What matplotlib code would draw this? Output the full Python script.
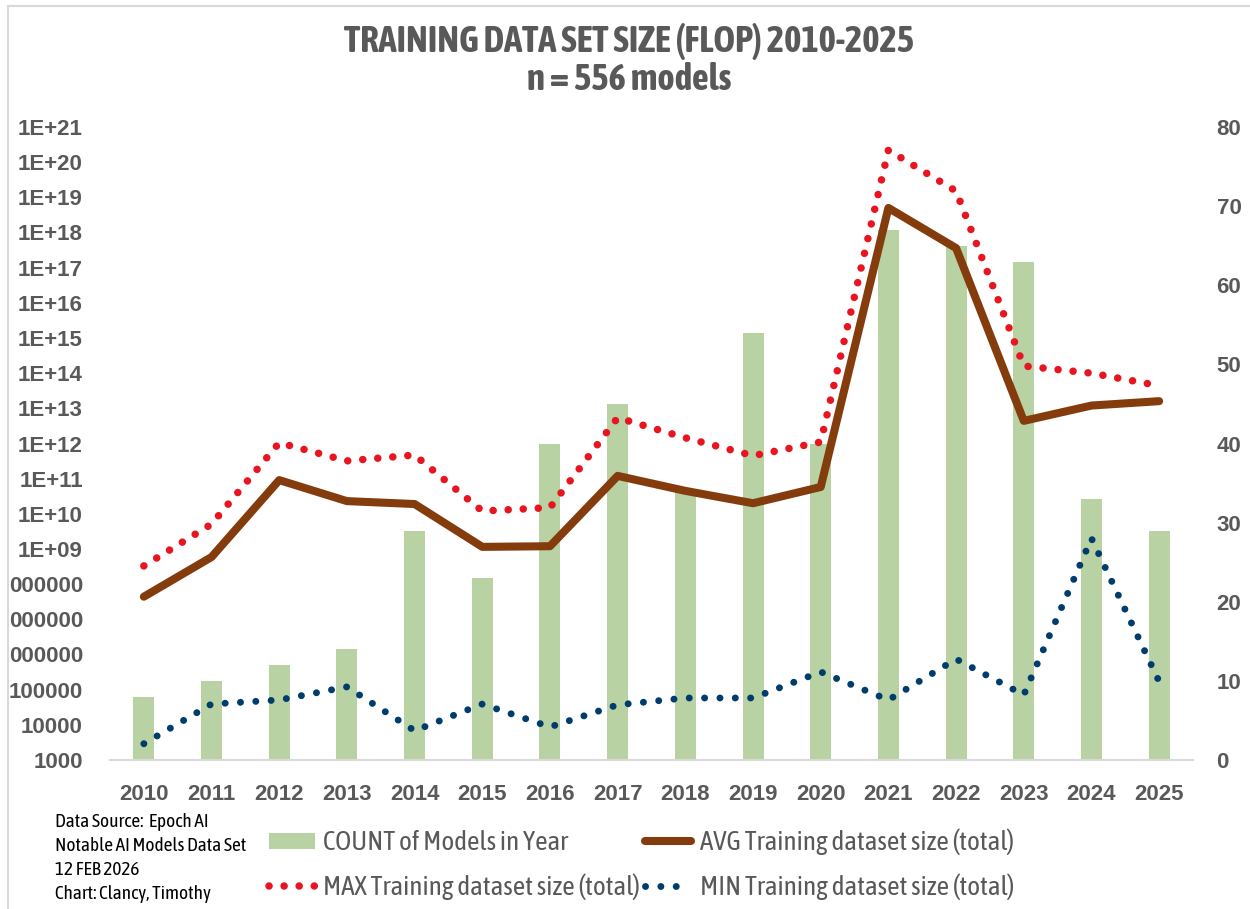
import matplotlib
matplotlib.use("Agg")
import matplotlib.pyplot as plt
from matplotlib import font_manager as fm
from matplotlib.lines import Line2D
from matplotlib.patches import Patch
from matplotlib.ticker import NullLocator


def has_font(name):
    try:
        fm.findfont(fm.FontProperties(family=name), fallback_to_default=False)
        return True
    except Exception:
        return False


# narrow face for title / legend / notes, plain sans for the tick labels
NARROW = "Asap Condensed" if has_font("Asap Condensed") else "Liberation Sans"
WIDE = "Liberation Sans"

# data
years = [str(y) for y in range(2010, 2026)]
model_counts = [8, 10, 12, 14, 29, 23, 40, 45, 34, 54, 40, 67, 65, 63, 33, 29]
avg_size = [4.4e7, 5.9e8, 9.1e10, 2.3e10, 1.9e10, 1.15e9, 1.2e9, 1.2e11,
            4.5e10, 2.0e10, 5.8e10, 5.0e18, 3.6e17, 4.4e12, 1.2e13, 1.6e13]
max_size = [3.3e8, 5.1e9, 1.05e12, 3.2e11, 4.7e11, 1.2e10, 1.5e10, 5.4e12,
            1.45e12, 4.5e11, 1.1e12, 2.2e20, 1.5e19, 1.6e14, 1.0e14, 4.4e13]
min_size = [2.9e3, 3.9e4, 5.1e4, 1.2e5, 6.8e3, 3.9e4, 8.7e3, 3.7e4,
            5.8e4, 5.8e4, 3.2e5, 5.1e4, 7.4e5, 7.1e4, 2.0e9, 1.7e5]
log_ticks = [10.0 ** k for k in range(3, 22)]
# labels as Excel shows them (the three widest ones are cut to "000000")
log_tick_labels = ["1000", "10000", "100000", "000000", "000000", "000000"] + \
                  ["1E+%02d" % k for k in range(9, 22)]
count_ticks = list(range(0, 90, 10))

GRAY = "#595959"
GREEN = "#b8d2a4"
BROWN = "#843c0c"
RED = "#e8141f"
BLUE = "#003c6c"

fig = plt.figure(figsize=(12.5, 9.09), dpi=100)
ax = fig.add_axes([110 / 1250, 1 - 760 / 909, (1193 - 110) / 1250, (760 - 127) / 909])
x = list(range(len(years)))

# bars on the count axis (right side), drawn underneath
ax.bar(x, model_counts, width=0.31, color=GREEN, zorder=1)
ax.set_ylim(0, 80)
ax.set_xlim(-0.5, len(years) - 0.5)
ax.set_xticks(x)
ax.set_xticklabels(years)

# lines on the log axis (left side)
ax2 = ax.twinx()
ax2.plot(x, avg_size, color=BROWN, lw=5.8, solid_capstyle="round",
         solid_joinstyle="round", zorder=3)
ax2.plot(x, max_size, color=RED, lw=5.4, linestyle=(0, (0.01, 2.0)),
         dash_capstyle="round", zorder=2)
ax2.plot(x, min_size, color=BLUE, lw=5.0, linestyle=(0, (0.01, 2.2)),
         dash_capstyle="round", zorder=2)
ax2.set_yscale("log")
ax2.set_ylim(1e3, 1e21)
ax2.set_yticks(log_ticks)
ax2.set_yticklabels(log_tick_labels)
ax2.yaxis.set_minor_locator(NullLocator())
ax2.yaxis.tick_left()
ax2.yaxis.set_label_position("left")

# count ticks go on the right (twinx moved them to the left)
ax.yaxis.tick_right()
ax.yaxis.set_label_position("right")
ax.set_yticks(count_ticks)

for s in ["top", "left", "right"]:
    ax.spines[s].set_visible(False)
ax.spines["bottom"].set_color("#d9d9d9")
ax.spines["bottom"].set_linewidth(1.5)
for s in ax2.spines.values():
    s.set_visible(False)
ax.tick_params(axis="y", length=0, pad=17, labelsize=16, labelcolor=GRAY)
ax.tick_params(axis="x", length=0, pad=17, labelsize=16, labelcolor=GRAY)
ax2.tick_params(axis="y", length=0, pad=19.5, labelsize=16, labelcolor=GRAY)

for lab in ax.get_xticklabels() + ax.get_yticklabels() + ax2.get_yticklabels():
    lab.set_fontfamily(WIDE)
    lab.set_fontweight("bold")

# title
fig.text(0.503, 1 - 42 / 909, "TRAINING DATA SET SIZE (FLOP) 2010-2025", ha="center", va="center",
         fontsize=26.5, fontweight="bold", color=GRAY, family=NARROW)
fig.text(0.503, 1 - 80 / 909, "n = 556 models", ha="center", va="center",
         fontsize=26.5, fontweight="bold", color=GRAY, family=NARROW)

# source note
notes = ["Data Source:  Epoch AI", "Notable AI Models Data Set", "12 FEB 2026", "Chart: Clancy, Timothy"]
for i, t in enumerate(notes):
    fig.text(55 / 1250, 1 - (822 + 24 * i) / 909, t, ha="left", va="center",
             fontsize=13.9, color="black", family=NARROW)

# legend
handles = [
    Patch(facecolor=GREEN, edgecolor="none"),
    Line2D([], [], color=RED, lw=5.4, linestyle=(0, (0.01, 2.0)), dash_capstyle="round"),
    Line2D([], [], color=BROWN, lw=5.8, solid_capstyle="round"),
    Line2D([], [], color=BLUE, lw=5.0, linestyle=(0, (0.01, 2.2)), dash_capstyle="round"),
]
labels = ["COUNT of Models in Year", "MAX Training dataset size (total)",
          "AVG Training dataset size (total)", "MIN Training dataset size (total)"]
leg = fig.legend(handles, labels, loc="upper left", bbox_to_anchor=(258 / 1250, 1 - 818 / 909),
                 ncol=2, frameon=False, handlelength=1.7, handleheight=0.55, handletextpad=0.3,
                 columnspacing=0.2, labelspacing=0.68, borderaxespad=0,
                 prop={"family": NARROW, "size": 19.5})
for t in leg.get_texts():
    t.set_color(GRAY)

# chart border (only left and top edges fall inside the image)
fig.add_artist(Line2D([8 / 1250, 8 / 1250], [0, 1 - 6 / 909], color="#d9d9d9", lw=1.5))
fig.add_artist(Line2D([8 / 1250, 1], [1 - 6 / 909, 1 - 6 / 909], color="#d9d9d9", lw=1.5))

fig.savefig("out.png", dpi=100)
